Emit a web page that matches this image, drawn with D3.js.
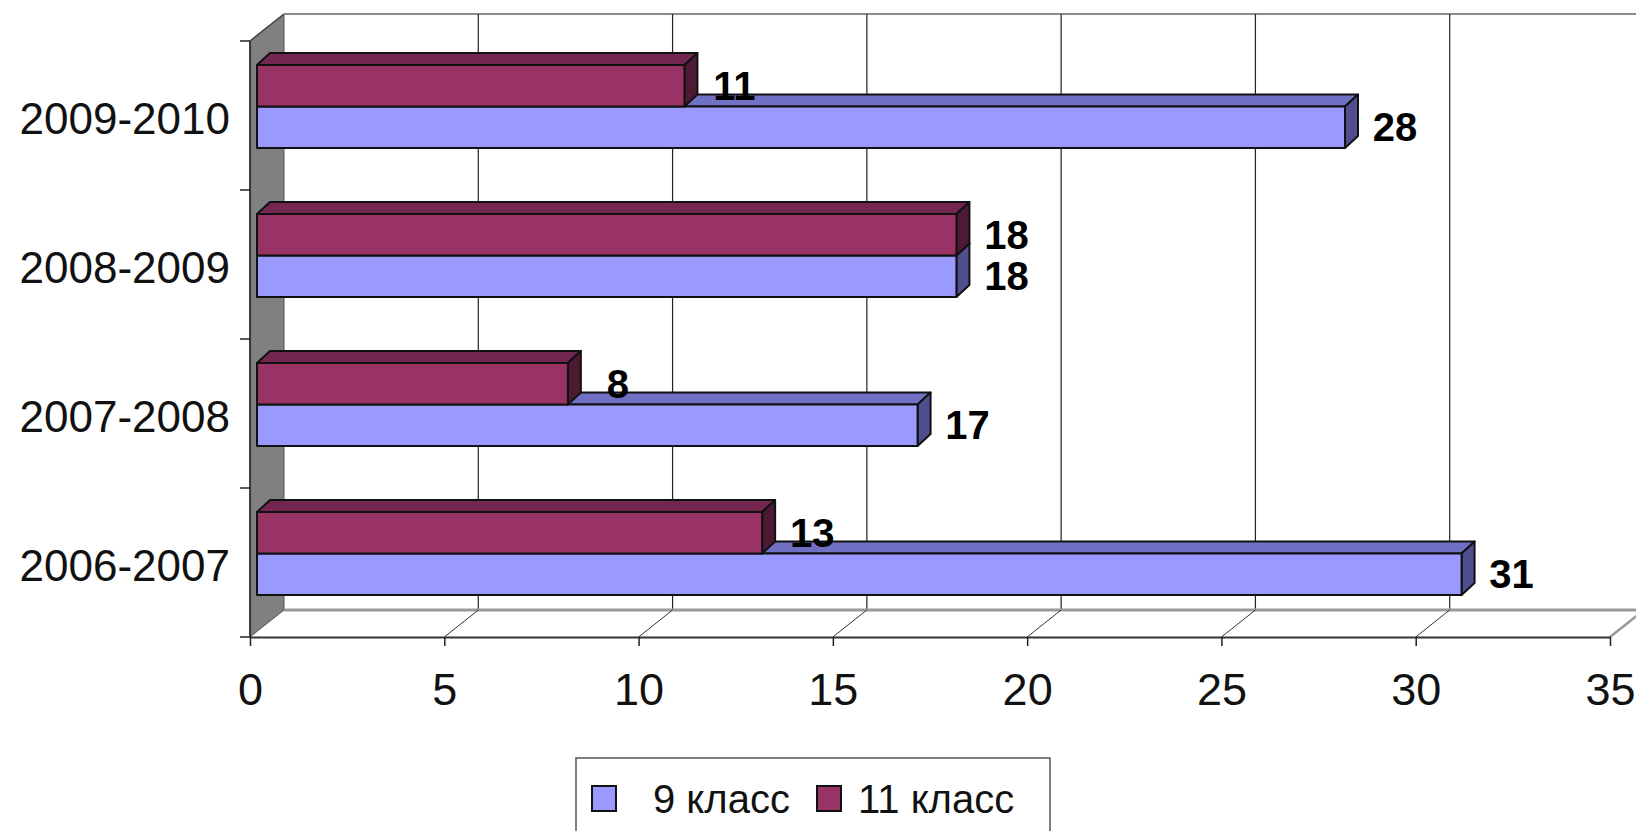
<!DOCTYPE html>
<html>
<head>
  <meta charset="utf-8">
  <script src="https://d3js.org/d3.v7.min.js"></script>
  <style>
    body { margin: 0; background: #fff; }
    svg { display: block; }
  </style>
</head>
<body>
  <script>
    // chart data
    var years = ["2006-2007", "2007-2008", "2008-2009", "2009-2010"];
    var seriesNames = ["9 класс", "11 класс"];
    var grade9 = [31, 17, 18, 28];
    var grade11 = [13, 8, 18, 11];
    var xTicks = [0, 5, 10, 15, 20, 25, 30, 35];

    var W = 1636, H = 831;
    var font = "'Liberation Sans', Arial, sans-serif";

    // front / top / side colors of the boxes
    var faces = {
      "9 класс":  { front: "#9999FF", top: "#7070C4", side: "#4F4F90" },
      "11 класс": { front: "#993366", top: "#732650", side: "#4D1933" }
    };

    var svg = d3.select("body").append("svg")
      .attr("width", W)
      .attr("height", H);

    var x = d3.scaleLinear().domain([0, 35]).range([250, 1610]);
    var y = d3.scaleBand().domain(years.slice().reverse()).range([41, 637]);
    // position of the two bars inside each category band
    var sub = d3.scaleBand().domain(["11 класс", "9 класс"]).range([24, 107]);

    var wall = { dx: 34, dy: -27 };   // depth of the walls
    var box = { dx: 13, dy: -12 };    // depth of the bars
    var barShift = 7;

    var top0 = y.range()[0], bot0 = y.range()[1];

    // side wall (grey)
    svg.append("polygon")
      .attr("points", [[x(0), top0], [x(0) + wall.dx, top0 + wall.dy],
                       [x(0) + wall.dx, bot0 + wall.dy], [x(0), bot0]].join(" "))
      .style("fill", "#808080")
      .style("stroke", "#555")
      .style("stroke-width", 1);

    // back wall top edge
    svg.append("line")
      .attr("x1", x(0) + wall.dx).attr("x2", W + 40)
      .attr("y1", top0 + wall.dy).attr("y2", top0 + wall.dy)
      .style("stroke", "#8a8a8a").style("stroke-width", 2);

    // gridlines on back wall
    svg.selectAll(".grid")
      .data(xTicks.filter(function(d){ return d > 0; }))
      .enter()
      .append("line")
      .attr("class", "grid")
      .attr("x1", function(d){ return x(d) + wall.dx; })
      .attr("x2", function(d){ return x(d) + wall.dx; })
      .attr("y1", top0 + wall.dy)
      .attr("y2", bot0 + wall.dy)
      .style("stroke", "#222").style("stroke-width", 1.2);

    // floor back edge
    svg.append("line")
      .attr("x1", x(0) + wall.dx).attr("x2", W + 40)
      .attr("y1", bot0 + wall.dy).attr("y2", bot0 + wall.dy)
      .style("stroke", "#999").style("stroke-width", 3);

    // floor diagonals
    svg.selectAll(".diag")
      .data(xTicks.filter(function(d){ return d > 0; }))
      .enter()
      .append("line")
      .attr("class", "diag")
      .attr("x1", function(d){ return x(d); })
      .attr("x2", function(d){ return x(d) + wall.dx; })
      .attr("y1", bot0)
      .attr("y2", bot0 + wall.dy)
      .style("stroke", function(d){ return d == 35 ? "#999" : "#333"; })
      .style("stroke-width", function(d){ return d == 35 ? 2.5 : 1; });

    // x axis (front edge of floor)
    var xAxis = svg.append("g")
      .attr("transform", "translate(0," + bot0 + ")")
      .call(d3.axisBottom(x).tickValues(xTicks).tickSize(9).tickSizeOuter(0).tickPadding(27));
    xAxis.select(".domain").style("stroke", "#333").style("stroke-width", 2);
    xAxis.selectAll(".tick line").style("stroke", "#222").style("stroke-width", 1.5);
    xAxis.selectAll("text")
      .style("font-family", font)
      .style("font-size", "45px")
      .style("fill", "#111");

    // y axis: labels centred in bands, ticks on band edges
    var yAxis = svg.append("g")
      .attr("transform", "translate(" + x(0) + ",0)")
      .call(d3.axisLeft(y).tickSize(0).tickPadding(20));
    yAxis.select(".domain").remove();
    yAxis.selectAll("text")
      .attr("dy", "0.43em")
      .style("font-family", font)
      .style("font-size", "44px")
      .style("fill", "#111");

    svg.append("line")
      .attr("x1", x(0)).attr("x2", x(0))
      .attr("y1", top0).attr("y2", bot0)
      .style("stroke", "#222").style("stroke-width", 1.5);
    svg.append("line")
      .attr("x1", x(0)).attr("x2", x(0) + wall.dx)
      .attr("y1", top0).attr("y2", top0 + wall.dy)
      .style("stroke", "#444").style("stroke-width", 1.5);

    svg.selectAll(".ytick")
      .data(years.concat(["end"]))
      .enter()
      .append("line")
      .attr("class", "ytick")
      .attr("x1", x(0) - 10).attr("x2", x(0))
      .attr("y1", function(d, i){ return top0 + i * y.step(); })
      .attr("y2", function(d, i){ return top0 + i * y.step(); })
      .style("stroke", "#222").style("stroke-width", 1.5);

    // bars as 3D boxes
    var rows = [];
    years.forEach(function(yr, i){
      rows.push({ year: yr, series: "9 класс", value: grade9[i] });
      rows.push({ year: yr, series: "11 класс", value: grade11[i] });
    });

    function boxParts(d){
      var x0 = x(0) + barShift, x1 = x(d.value) + barShift;
      var y0 = y(d.year) + sub(d.series), y1 = y0 + sub.bandwidth();
      return { x0: x0, x1: x1, y0: y0, y1: y1 };
    }

    var bars = svg.selectAll(".bar")
      .data(rows)
      .enter()
      .append("g")
      .attr("class", "bar")
      .style("stroke", "#111")
      .style("stroke-width", 2)
      .style("stroke-linejoin", "round");

    bars.append("polygon")
      .attr("points", function(d){
        var p = boxParts(d);
        return [[p.x0, p.y0], [p.x0 + box.dx, p.y0 + box.dy],
                [p.x1 + box.dx, p.y0 + box.dy], [p.x1, p.y0]].join(" ");
      })
      .style("fill", function(d){ return faces[d.series].top; });

    bars.append("polygon")
      .attr("points", function(d){
        var p = boxParts(d);
        return [[p.x1, p.y0], [p.x1 + box.dx, p.y0 + box.dy],
                [p.x1 + box.dx, p.y1 + box.dy], [p.x1, p.y1]].join(" ");
      })
      .style("fill", function(d){ return faces[d.series].side; });

    bars.append("rect")
      .attr("x", function(d){ return boxParts(d).x0; })
      .attr("y", function(d){ return boxParts(d).y0; })
      .attr("width", function(d){ var p = boxParts(d); return p.x1 - p.x0; })
      .attr("height", sub.bandwidth())
      .style("fill", function(d){ return faces[d.series].front; });

    // value labels
    svg.selectAll(".val")
      .data(rows)
      .enter()
      .append("text")
      .attr("class", "val")
      .attr("x", function(d){ return x(d.value) + barShift + 50; })
      .attr("y", function(d){ return y(d.year) + sub(d.series) + sub.bandwidth() / 2 + 14; })
      .attr("text-anchor", "middle")
      .style("font-family", font)
      .style("font-weight", "bold")
      .style("font-size", "40px")
      .style("fill", "#000")
      .text(function(d){ return d.value; });

    // legend
    var legend = svg.append("g").attr("transform", "translate(576,758)");
    legend.append("rect")
      .attr("x", 0).attr("y", 0)
      .attr("width", 474).attr("height", 100)
      .style("fill", "#fff")
      .style("stroke", "#555")
      .style("stroke-width", 1.5);

    var legendX = [16, 241];
    var item = legend.selectAll(".item")
      .data(seriesNames)
      .enter()
      .append("g")
      .attr("class", "item")
      .attr("transform", function(d, i){ return "translate(" + legendX[i] + ",0)"; });
    item.append("rect")
      .attr("x", 0).attr("y", 28)
      .attr("width", 24).attr("height", 25)
      .style("fill", function(d){ return faces[d].front; })
      .style("stroke", "#111")
      .style("stroke-width", 2);
    item.append("text")
      .attr("x", function(d, i){ return i == 0 ? 61 : 41; })
      .attr("y", 55)
      .style("font-family", font)
      .style("font-size", "40px")
      .style("fill", "#111")
      .text(function(d){ return d; });
  </script>
</body>
</html>
